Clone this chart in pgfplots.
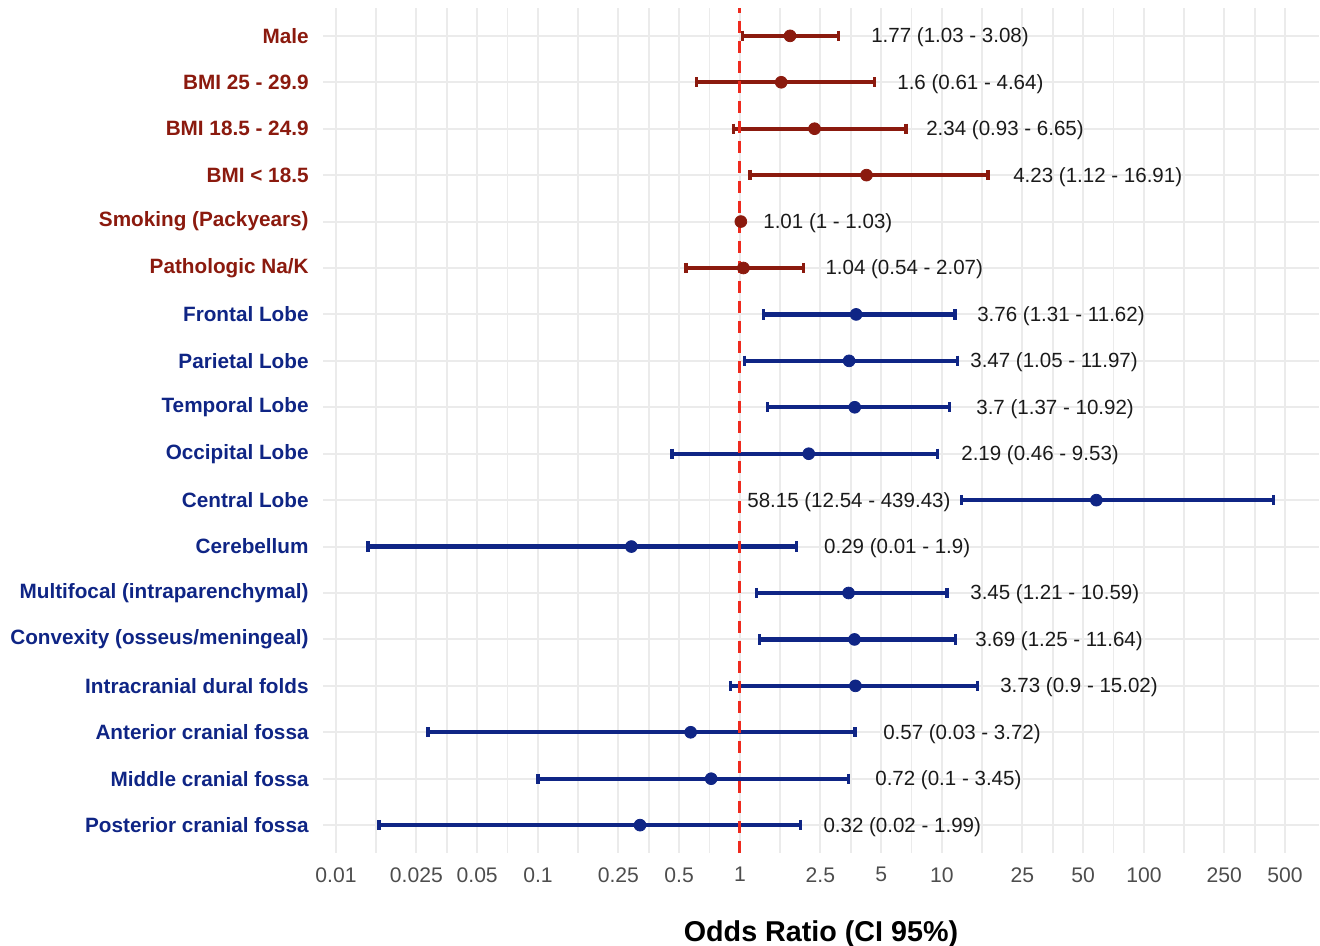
\documentclass[border=0pt]{standalone}
\usepackage{pgfplots}
\pgfplotsset{compat=1.18}
\usepackage{fontspec}
\setmainfont{Liberation Sans}
\definecolor{dred}{HTML}{8B1A0E}
\definecolor{dblue}{HTML}{0F2585}
\definecolor{gridc}{HTML}{EBEBEB}
\definecolor{refred}{HTML}{EE2A1E}
\definecolor{ticktext}{HTML}{4D4D4D}
\definecolor{valtext}{HTML}{1A1A1A}
\pgfplotsset{
  ci/.style={line width=2.1bp, mark=|, mark size=2.6bp, mark options={solid, line width=1.7bp}},
  pt/.style={only marks, mark=*, mark size=2.95bp},
}
\tikzset{val/.style={anchor=west, inner sep=0pt, yshift=-0.8bp, text=valtext, font=\fontsize{10.3}{12}\selectfont}}
\begin{document}
\begin{tikzpicture}
\begin{axis}[
  scale only axis, width=498bp, height=422.5bp,
  xmode=log, xmin=0.00862, xmax=736, ymin=0.4, ymax=18.6,
  axis line style={draw=none}, major tick length=0pt, minor tick length=0pt,
  xtick={0.01,0.025,0.05,0.1,0.25,0.5,1,2.5,5,10,25,50,100,250,500},
  xticklabels={0.01,0.025,0.05,0.1,0.25,0.5,1,2.5,5,10,25,50,100,250,500},
  minor xtick={0.01581,0.03536,0.07071,0.1581,0.3536,0.7071,1.581,3.536,7.071,15.81,35.36,70.71,158.1,353.6},
  ytick={1,...,18},
  yticklabels={
    \textcolor{dblue}{Posterior cranial fossa},
    \textcolor{dblue}{Middle cranial fossa},
    \textcolor{dblue}{Anterior cranial fossa},
    \textcolor{dblue}{Intracranial dural folds},
    \textcolor{dblue}{Convexity (osseus/meningeal)},
    \textcolor{dblue}{Multifocal (intraparenchymal)},
    \textcolor{dblue}{Cerebellum},
    \textcolor{dblue}{Central Lobe},
    \textcolor{dblue}{Occipital Lobe},
    \textcolor{dblue}{Temporal Lobe},
    \textcolor{dblue}{Parietal Lobe},
    \textcolor{dblue}{Frontal Lobe},
    \textcolor{dred}{Pathologic Na/K},
    \textcolor{dred}{Smoking (Packyears)},
    \textcolor{dred}{BMI < 18.5},
    \textcolor{dred}{BMI 18.5 - 24.9},
    \textcolor{dred}{BMI 25 - 29.9},
    \textcolor{dred}{Male}},
  xmajorgrids=true, xminorgrids=true, ymajorgrids=true,
  major grid style={gridc, line width=1bp},
  minor grid style={gridc, line width=0.8bp},
  clip=false,
  xticklabel style={font=\fontsize{10.6}{12}\selectfont, text=ticktext, inner sep=0pt, anchor=north, yshift=-7bp},
  yticklabel style={font=\bfseries\fontsize{10.4}{12}\selectfont, inner sep=0pt, anchor=east, xshift=-7bp},
  xlabel={Odds Ratio (CI 95\%)},
  xlabel style={font=\bfseries\fontsize{14.4}{16}\selectfont, at={(axis description cs:0.5,0)}, anchor=north, inner sep=0pt, yshift=-33.5bp},
]
% confidence intervals - red group
\addplot[ci, dred] coordinates {(1.03,18) (3.08,18)};
\addplot[ci, dred] coordinates {(0.61,17) (4.64,17)};
\addplot[ci, dred] coordinates {(0.93,16) (6.65,16)};
\addplot[ci, dred] coordinates {(1.12,15) (16.91,15)};
\addplot[ci, dred] coordinates {(1.00,14) (1.03,14)};
\addplot[ci, dred] coordinates {(0.54,13) (2.07,13)};
% confidence intervals - blue group
\addplot[ci, dblue] coordinates {(1.31,12) (11.62,12)};
\addplot[ci, dblue] coordinates {(1.05,11) (11.97,11)};
\addplot[ci, dblue] coordinates {(1.37,10) (10.92,10)};
\addplot[ci, dblue] coordinates {(0.46,9) (9.53,9)};
\addplot[ci, dblue] coordinates {(12.54,8) (439.43,8)};
\addplot[ci, dblue] coordinates {(0.0144,7) (1.9,7)};
\addplot[ci, dblue] coordinates {(1.21,6) (10.59,6)};
\addplot[ci, dblue] coordinates {(1.25,5) (11.64,5)};
\addplot[ci, dblue] coordinates {(0.9,4) (15.02,4)};
\addplot[ci, dblue] coordinates {(0.0285,3) (3.72,3)};
\addplot[ci, dblue] coordinates {(0.1,2) (3.45,2)};
\addplot[ci, dblue] coordinates {(0.0163,1) (1.99,1)};
% point estimates
\addplot[pt, dred] coordinates {(1.77,18) (1.6,17) (2.34,16) (4.23,15) (1.01,14) (1.04,13)};
\addplot[pt, dblue] coordinates {(3.76,12) (3.47,11) (3.7,10) (2.19,9) (58.15,8) (0.29,7) (3.45,6) (3.69,5) (3.73,4) (0.57,3) (0.72,2) (0.32,1)};
% reference line
\addplot[refred, line width=1.5bp, dash pattern=on 6bp off 4bp] coordinates {(1,0.4) (1,18.6)};
% value labels
\node[val] at (axis cs:4.45,18) {1.77 (1.03 - 3.08)};
\node[val] at (axis cs:5.99,17) {1.6 (0.61 - 4.64)};
\node[val] at (axis cs:8.33,16) {2.34 (0.93 - 6.65)};
\node[val] at (axis cs:22.46,15) {4.23 (1.12 - 16.91)};
\node[val] at (axis cs:1.30,14) {1.01 (1 - 1.03)};
\node[val] at (axis cs:2.64,13) {1.04 (0.54 - 2.07)};
\node[val] at (axis cs:14.9,12) {3.76 (1.31 - 11.62)};
\node[val] at (axis cs:13.76,11) {3.47 (1.05 - 11.97)};
\node[val] at (axis cs:14.74,10) {3.7 (1.37 - 10.92)};
\node[val] at (axis cs:12.42,9) {2.19 (0.46 - 9.53)};
\node[val] at (axis cs:1.083,8) {58.15 (12.54 - 439.43)};
\node[val] at (axis cs:2.60,7) {0.29 (0.01 - 1.9)};
\node[val] at (axis cs:13.76,6) {3.45 (1.21 - 10.59)};
\node[val] at (axis cs:14.57,5) {3.69 (1.25 - 11.64)};
\node[val] at (axis cs:19.37,4) {3.73 (0.9 - 15.02)};
\node[val] at (axis cs:5.10,3) {0.57 (0.03 - 3.72)};
\node[val] at (axis cs:4.66,2) {0.72 (0.1 - 3.45)};
\node[val] at (axis cs:2.58,1) {0.32 (0.02 - 1.99)};
\end{axis}
\pgfresetboundingbox
\path ([shift={(-161.5bp,-46.5bp)}]current axis.south west) rectangle ([shift={(0.5bp,4bp)}]current axis.north east);
\end{tikzpicture}
\end{document}
